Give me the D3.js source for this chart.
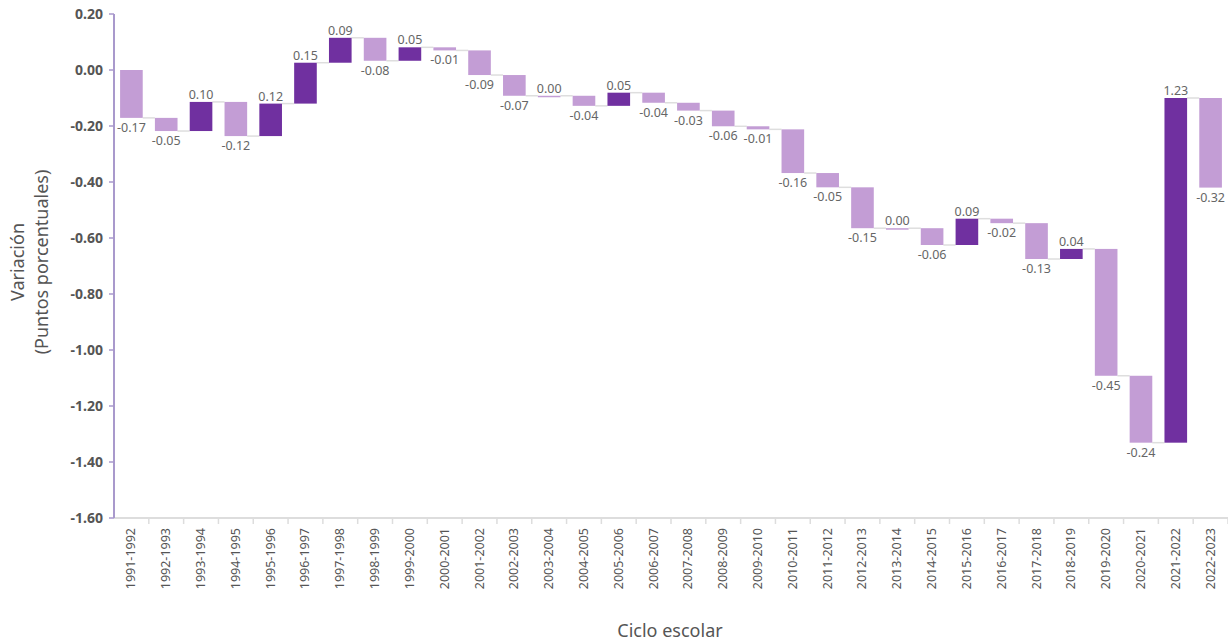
<!DOCTYPE html>
<html><head><meta charset="utf-8">
<script src="https://cdn.jsdelivr.net/npm/d3@7"></script>
<style>body{margin:0;background:#fff}svg{display:block}</style>
</head><body>
<svg id="c" width="1228" height="644"></svg>
<script>
const categories = ["1991-1992","1992-1993","1993-1994","1994-1995","1995-1996","1996-1997","1997-1998","1998-1999","1999-2000","2000-2001","2001-2002","2002-2003","2003-2004","2004-2005","2005-2006","2006-2007","2007-2008","2008-2009","2009-2010","2010-2011","2011-2012","2012-2013","2013-2014","2014-2015","2015-2016","2016-2017","2017-2018","2018-2019","2019-2020","2020-2021","2021-2022","2022-2023"];
const values = [-0.171,-0.047,0.104,-0.122,0.116,0.146,0.089,-0.082,0.048,-0.011,-0.088,-0.074,0.000,-0.036,0.047,-0.036,-0.028,-0.056,-0.011,-0.156,-0.051,-0.146,0.000,-0.060,0.094,-0.016,-0.128,0.036,-0.453,-0.239,1.231,-0.320];
const yTicks = [0.20,0.00,-0.20,-0.40,-0.60,-0.80,-1.00,-1.20,-1.40,-1.60];

const light = "#c39dd5", dark = "#7030a0";
const font = "'Noto Sans', sans-serif";
const svg = d3.select("#c");
const m = {left:114, right:0, top:14, bottom:126};
const W = 1228, H = 644;

const x = d3.scaleBand().domain(categories).range([m.left, W - m.right]).paddingInner(0.35).paddingOuter(0.175);
const y = d3.scaleLinear().domain([-1.6, 0.2]).range([H - m.bottom, m.top]);

let cum = 0;
const data = categories.map((c,i)=>{ const s = cum; cum += values[i]; return {c, v:values[i], s, e:cum}; });

// connectors
svg.append("g").selectAll("line").data(data.slice(0,-1)).join("line")
  .attr("x1", (d)=>x(d.c)+x.bandwidth())
  .attr("x2", (d,i)=>x(data[i+1].c))
  .attr("y1", d=>y(d.e)).attr("y2", d=>y(d.e))
  .attr("stroke","#dedede").attr("stroke-width",1.5);

// bars
svg.append("g").selectAll("rect").data(data).join("rect")
  .attr("x", d=>x(d.c)).attr("width", x.bandwidth())
  .attr("y", d=>Math.min(y(d.s),y(d.e)))
  .attr("height", d=>Math.max(1.5, Math.abs(y(d.s)-y(d.e))))
  .attr("fill", d=>d.v>0?dark:light);

// value labels
svg.append("g").selectAll("text").data(data).join("text")
  .attr("x", d=>x(d.c)+x.bandwidth()/2)
  .attr("y", d=> d.v>=0 ? Math.min(y(d.s),y(d.e))-3 : Math.max(y(d.s),y(d.e))+14)
  .attr("text-anchor","middle")
  .attr("font-family",font).attr("font-size",12.5).attr("fill","#666")
  .text(d=>d3.format(".2f")(d.v).replace("−","-"));

// x axis
const xa = svg.append("g").attr("transform",`translate(0,${y(-1.6)})`);
xa.append("line").attr("x1",m.left).attr("x2",W).attr("stroke","#dddddd").attr("stroke-width",2);
const step = x.step();
xa.selectAll(".tk").data(categories).join("line")
  .attr("x1",(d,i)=>m.left+step*(i+1)).attr("x2",(d,i)=>m.left+step*(i+1))
  .attr("y1",0).attr("y2",6).attr("stroke","#dddddd").attr("stroke-width",1.5);
xa.selectAll("text").data(categories).join("text")
  .attr("transform", d=>`translate(${x(d)+x.bandwidth()/2+4},10) rotate(-90)`)
  .attr("text-anchor","end")
  .attr("font-family",font).attr("font-size",12.5).attr("fill","#555")
  .text(d=>d);

// y axis
const ya = svg.append("g").attr("transform",`translate(${m.left},0)`);
ya.append("line").attr("y1",y(0.2)).attr("y2",y(-1.6)).attr("stroke","#a999cc").attr("stroke-width",2);
ya.selectAll(".t").data(yTicks).join("line")
  .attr("x1",-5).attr("x2",0).attr("y1",d=>y(d)).attr("y2",d=>y(d)).attr("stroke","#a999cc").attr("stroke-width",1.5);
ya.selectAll("text").data(yTicks).join("text")
  .attr("x",-11).attr("y",d=>y(d)).attr("dy","0.35em")
  .attr("text-anchor","end")
  .attr("font-family",font).attr("font-size",14).attr("font-weight","bold").attr("fill","#555")
  .text(d=>d3.format(".2f")(d).replace("−","-"));

// titles
const yt = svg.append("text").attr("transform","translate(24,262) rotate(-90)")
  .attr("text-anchor","middle").attr("font-family",font).attr("font-size",18).attr("fill","#555");
yt.append("tspan").attr("x",0).attr("dy",0).text("Variación");
yt.append("tspan").attr("x",0).attr("dy",24).text("(Puntos porcentuales)");
svg.append("text").attr("x",670).attr("y",637).attr("text-anchor","middle")
  .attr("font-family",font).attr("font-size",18).attr("fill","#555").text("Ciclo escolar");
</script>
</body></html>
